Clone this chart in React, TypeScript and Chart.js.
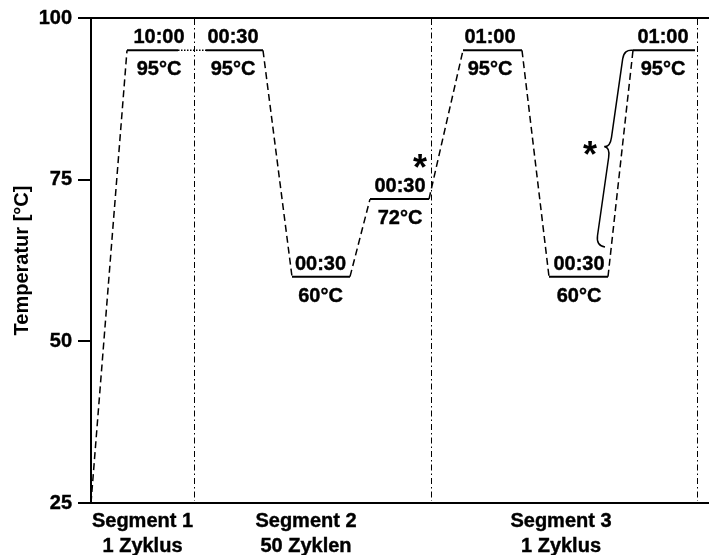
import React, { useEffect, useRef } from 'react';
import { Chart, registerables } from 'chart.js';

Chart.register(...registerables);

const FONT = '"Liberation Sans", Arial, Helvetica, sans-serif';

// Temperature profile (schematic time position, temperature in °C)
const profileX = [0, 36, 87, 115, 172, 201, 259, 279, 338, 372, 431, 458, 517, 542, 604];
const profileTemp = [25, 95, 95, 95, 95, 60, 60, 72, 72, 95, 95, 60, 60, 95, 95];
const breakSegment = 2; // dotted piece (time-axis break) between point 2 and 3

// segment separators (schematic time position)
const separatorX = [103, 340, 606];

// x-axis segment captions
const segmentCenters = [51.5, 215, 470];
const segmentLabels = [
  ['Segment 1', '1 Zyklus'],
  ['Segment 2', '50 Zyklen'],
  ['Segment 3', '1 Zyklus'],
];

// y-axis ticks
const yTicks = [25, 50, 75, 100];

// hold steps: position, temperature, hold time, temperature caption
const holdX = [68, 142, 229.5, 309, 399, 488, 572];
const holdTemp = [95, 95, 60, 72, 95, 60, 95];
const holdTime = ['10:00', '00:30', '00:30', '00:30', '01:00', '00:30', '01:00'];
const holdTempLabel = ['95°C', '95°C', '60°C', '72°C', '95°C', '60°C', '95°C'];

// asterisk marks
const asteriskX = [329, 499];
const asteriskTemp = [77.6, 79.6];

// curly brace along the last heating ramp (top end, bottom end)
const braceX = [542, 514];
const braceTemp = [95, 64.6];

const annotationPlugin = {
  id: 'pcrAnnotations',
  afterDatasetsDraw(chart: any) {
    const { ctx, chartArea, scales } = chart;
    const x = scales.x;
    const y = scales.y;
    ctx.save();
    ctx.strokeStyle = '#000';
    ctx.fillStyle = '#000';

    // top frame line
    const yTop = y.getPixelForValue(100);
    const yBot = y.getPixelForValue(25);
    ctx.lineWidth = 2;
    ctx.setLineDash([]);
    ctx.beginPath();
    ctx.moveTo(chartArea.left, yTop);
    ctx.lineTo(chart.width, yTop);
    ctx.stroke();

    // separators (dash-dot)
    ctx.lineWidth = 1;
    ctx.setLineDash([6, 3, 1.5, 3]);
    separatorX.forEach((v) => {
      const px = Math.round(x.getPixelForValue(v)) + 0.5;
      ctx.beginPath();
      ctx.moveTo(px, yTop + 1);
      ctx.lineTo(px, yBot - 2);
      ctx.stroke();
    });
    ctx.setLineDash([]);

    // hold labels
    ctx.font = `bold 20px ${FONT}`;
    ctx.textAlign = 'center';
    ctx.textBaseline = 'alphabetic';
    ctx.lineWidth = 0.4;
    holdX.forEach((v, i) => {
      const px = x.getPixelForValue(v);
      const py = y.getPixelForValue(holdTemp[i]);
      ctx.fillText(holdTime[i], px, py - 7);
      ctx.strokeText(holdTime[i], px, py - 7);
      ctx.fillText(holdTempLabel[i], px, py + 25);
      ctx.strokeText(holdTempLabel[i], px, py + 25);
    });

    // asterisks
    ctx.font = `bold 36px ${FONT}`;
    asteriskX.forEach((v, i) => {
      const px = x.getPixelForValue(v);
      const py = y.getPixelForValue(asteriskTemp[i]);
      ctx.fillText('*', px, py + 17);
    });

    // curly brace
    const x1 = x.getPixelForValue(braceX[0]);
    const y1 = y.getPixelForValue(braceTemp[0]);
    const x2 = x.getPixelForValue(braceX[1]);
    const y2 = y.getPixelForValue(braceTemp[1]);
    const L = Math.hypot(x2 - x1, y2 - y1);
    const dx = (x2 - x1) / L;
    const dy = (y2 - y1) / L;
    const nx = -dy;
    const ny = dx;
    const P = (u: number, w: number) => [x1 + dx * u + nx * w, y1 + dy * u + ny * w];
    const q = 10;
    const s = 9;
    const t = 15;
    ctx.lineWidth = 1.5;
    ctx.beginPath();
    let p = P(0, 0);
    ctx.moveTo(p[0], p[1]);
    let c = P(0, s);
    p = P(q, s);
    ctx.quadraticCurveTo(c[0], c[1], p[0], p[1]);
    p = P(L / 2 - q, s);
    ctx.lineTo(p[0], p[1]);
    c = P(L / 2, s);
    p = P(L / 2, t);
    ctx.quadraticCurveTo(c[0], c[1], p[0], p[1]);
    c = P(L / 2, s);
    p = P(L / 2 + q, s);
    ctx.quadraticCurveTo(c[0], c[1], p[0], p[1]);
    p = P(L - q, s);
    ctx.lineTo(p[0], p[1]);
    c = P(L, s);
    p = P(L, 0);
    ctx.quadraticCurveTo(c[0], c[1], p[0], p[1]);
    ctx.stroke();

    ctx.restore();
  },
};

export default function App() {
  const canvasRef = useRef<HTMLCanvasElement | null>(null);

  useEffect(() => {
    const canvas = canvasRef.current;
    if (!canvas) return;
    const isRamp = (c: any) => c.p0.parsed.y !== c.p1.parsed.y;
    const chart = new Chart(canvas, {
      type: 'line',
      data: {
        datasets: [
          {
            data: profileX.map((v, i) => ({ x: v, y: profileTemp[i] })),
            borderColor: '#000',
            borderWidth: 2,
            pointRadius: 0,
            tension: 0,
            fill: false,
            segment: {
              borderDash: (c: any) =>
                isRamp(c) ? [7, 4] : c.p0DataIndex === breakSegment ? [1.5, 1.5] : [],
              borderWidth: (c: any) =>
                isRamp(c) ? 1.5 : c.p0DataIndex === breakSegment ? 1.5 : 2,
            },
          },
        ],
      },
      options: {
        responsive: false,
        maintainAspectRatio: false,
        animation: false,
        layout: { padding: { left: 0, right: 1, top: 17, bottom: 0 } },
        plugins: {
          legend: { display: false },
          tooltip: { enabled: false },
        },
        scales: {
          x: {
            type: 'linear',
            min: 0,
            max: 617,
            grid: { display: false },
            border: { display: true, color: '#000', width: 2 },
            afterBuildTicks: (s: any) => {
              s.ticks = segmentCenters.map((v) => ({ value: v }));
            },
            afterFit: (s: any) => {
              s.height = 52;
            },
            ticks: {
              autoSkip: false,
              maxRotation: 0,
              minRotation: 0,
              padding: -2,
              color: '#000',
              textStrokeColor: '#000',
              textStrokeWidth: 0.4,
              font: { family: FONT, size: 20, weight: 'bold', lineHeight: '25px' },
              callback: (_v: any, i: number) => segmentLabels[i],
            },
          },
          y: {
            min: 25,
            max: 100,
            afterBuildTicks: (s: any) => {
              s.ticks = yTicks.map((v) => ({ value: v }));
            },
            afterFit: (s: any) => {
              s.width = 91;
            },
            grid: {
              drawOnChartArea: false,
              drawTicks: true,
              tickLength: 13,
              color: '#000',
              lineWidth: 2,
            },
            border: { display: true, color: '#000', width: 2 },
            ticks: {
              padding: 6,
              color: '#000',
              textStrokeColor: '#000',
              textStrokeWidth: 0.4,
              font: { family: FONT, size: 20, weight: 'bold' },
            },
            title: {
              display: true,
              text: 'Temperatur [°C]',
              color: '#000',
              padding: { top: 10, bottom: 0 },
              font: { family: FONT, size: 20, weight: 'bold' },
            },
          },
        },
      },
      plugins: [annotationPlugin],
    } as any);
    return () => chart.destroy();
  }, []);

  return (
    <div style={{ position: 'fixed', left: 0, top: 0, width: 709, height: 555, background: '#fff' }}>
      <canvas ref={canvasRef} width={709} height={555} style={{ display: 'block' }} />
    </div>
  );
}
